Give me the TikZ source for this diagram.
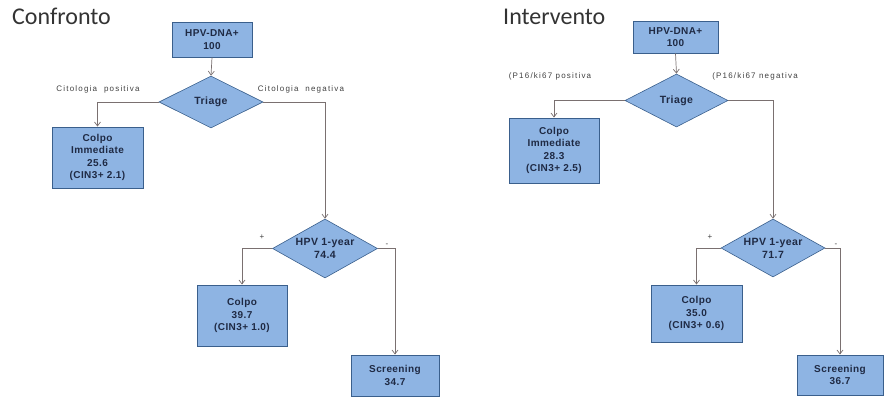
\documentclass[tikz,border=0pt]{standalone}
\usepackage{fontspec}
\setmainfont{Liberation Sans}
\newfontfamily\titlefont{Carlito}
\newfontfamily\lblfont[LetterSpace=15]{Liberation Sans}
\newfontfamily\boxfont[LetterSpace=4]{Liberation Sans}
\usetikzlibrary{shapes.geometric,arrows.meta}
\definecolor{boxfill}{HTML}{8EB4E3}
\definecolor{boxdraw}{HTML}{3A5F8C}
\definecolor{linec}{HTML}{7A7070}
\definecolor{txtc}{HTML}{1F2A44}
\tikzset{
  x=1pt,y=-1pt,
  pbox/.style={draw=boxdraw,line width=0.9pt,fill=boxfill,minimum width=#1,align=center,
    font=\boxfont\bfseries\fontsize{10}{12.5}\selectfont,text=txtc,inner sep=1pt},
  pdia/.style={diamond,draw=boxdraw,line width=0.6pt,fill=boxfill,aspect=2,inner sep=0pt},
  diatext/.style={font=\boxfont\bfseries\fontsize{10.5}{13}\selectfont,text=txtc,align=center},
  conn/.style={draw=linec,line width=0.7pt,-{Straight Barb[length=4pt,width=6pt]}},
  lbl/.style={font=\lblfont\fontsize{8}{9}\selectfont,text=black!75},
  ttl/.style={font=\titlefont\fontsize{24}{26}\selectfont,text=black!80,anchor=base west,inner sep=0pt},
}
\begin{document}
\begin{tikzpicture}
\useasboundingbox (0,0) rectangle (884,398);
% ---------- Confronto ----------
\node[ttl] (t1) at (12,25) {Confronto};
\node[pbox=80pt,minimum height=35pt] (a1) at (212,39.5) {HPV-DNA+\\100};
\node[pdia,minimum width=104pt,minimum height=52pt,label={[diatext]center:Triage}] (d1) at (211,102) {};
\node[pbox=91pt,minimum height=61pt] (c1) at (97.5,157.5) {Colpo\\Immediate\\25.6\\(CIN3+ 2.1)};
\node[pdia,minimum width=105pt,minimum height=59pt,label={[diatext]center:{HPV 1-year\\74.4}}] (e1) at (325,248.5) {};
\node[pbox=90pt,minimum height=61pt] (f1) at (242,315.5) {Colpo\\39.7\\(CIN3+ 1.0)};
\node[pbox=88pt,minimum height=41pt] (s1) at (395,375.5) {Screening\\34.7};
\node[lbl] (l1a) at (98,89) {Citologia\ \ positiva};
\node[lbl] (l1b) at (301,89) {Citologia\ \ negativa};
\node[lbl] (p1) at (262,237) {+};
\node[lbl] (m1) at (387,245) {-};
\draw[conn] (a1.south) -- (d1.north);
\draw[conn] (d1.west) -| (c1.north);
\draw[conn] (d1.east) -| (e1.north);
\draw[conn] (e1.west) -| (f1.north);
\draw[conn] (e1.east) -| (s1.north);
% ---------- Intervento ----------
\node[ttl] (t2) at (503,25) {Intervento};
\node[pbox=85pt,minimum height=32pt] (a2) at (675.5,37) {HPV-DNA+\\100};
\node[pdia,minimum width=103pt,minimum height=53pt,label={[diatext]center:Triage}] (d2) at (676.5,100.5) {};
\node[pbox=90pt,minimum height=65pt] (c2) at (554,150.5) {Colpo\\Immediate\\28.3\\(CIN3+ 2.5)};
\node[pdia,minimum width=104pt,minimum height=58pt,label={[diatext]center:{HPV 1-year\\71.7}}] (e2) at (773,248) {};
\node[pbox=91pt,minimum height=57pt] (f2) at (696.5,313.5) {Colpo\\35.0\\(CIN3+ 0.6)};
\node[pbox=86pt,minimum height=40pt] (s2) at (840,375) {Screening\\36.7};
\node[lbl] (l2a) at (550,76) {(P16/ki67 positiva};
\node[lbl] (l2b) at (755,76) {(P16/ki67 negativa};
\node[lbl] (p2) at (710,237) {+};
\node[lbl] (m2) at (836,245) {-};
\draw[conn] (a2.south) -- (d2.north);
\draw[conn] (d2.west) -| (c2.north);
\draw[conn] (d2.east) -| (e2.north);
\draw[conn] (e2.west) -| (f2.north);
\draw[conn] (e2.east) -| (s2.north);
\end{tikzpicture}
\end{document}
